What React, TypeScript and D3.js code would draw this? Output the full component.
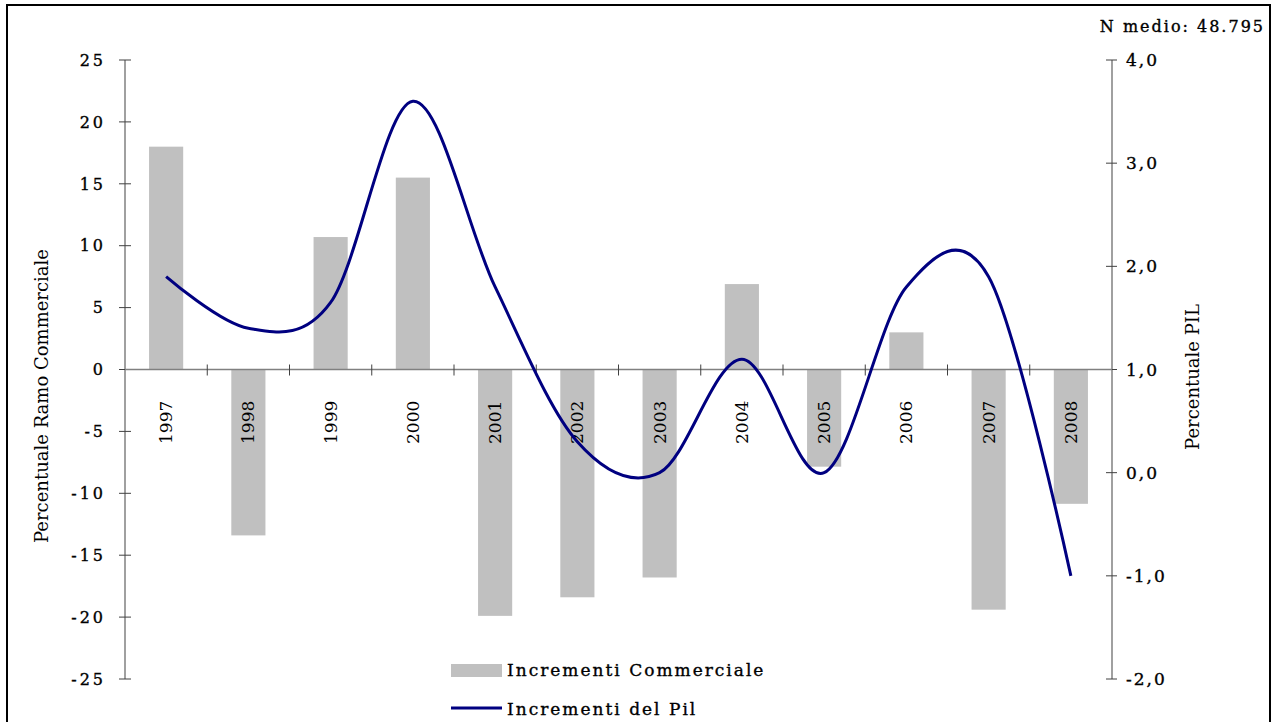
import React from "react";
import * as d3 from "d3";

const years = ["1997","1998","1999","2000","2001","2002","2003","2004","2005","2006","2007","2008"];
const commerciale = [18.0, -13.4, 10.7, 15.5, -19.9, -18.4, -16.8, 6.9, -7.85, 3.0, -19.4, -10.85];
const pil = [1.9, 1.4, 1.65, 3.6, 1.8, 0.3, 0.0, 1.1, 0.0, 1.8, 1.9, -1.0];
const leftTicks = [25, 20, 15, 10, 5, 0, -5, -10, -15, -20, -25];
const rightTicks = [4, 3, 2, 1, 0, -1, -2];

const W = 1273, H = 722;
const L = 125, R = 1112, T = 60, B = 679;
const FONT = "'DejaVu Serif', serif";
const thick = { stroke: "#000", strokeWidth: 0.35 };

export default function App() {
  const x = d3.scaleBand<string>().domain(years).range([L, R]).padding(0);
  const yL = d3.scaleLinear().domain([-25, 25]).range([B, T]);
  const yR = d3.scaleLinear().domain([-2, 4]).range([B, T]);
  const bw = x.bandwidth() * 0.415;
  const cx = (y: string) => (x(y) as number) + x.bandwidth() / 2;
  const line = d3.line<number>()
    .x((_, i) => cx(years[i]))
    .y((d) => yR(d))
    .curve(d3.curveCatmullRom.alpha(0));
  const y0 = yL(0);
  return (
    <svg width={W} height={H} style={{ position: "absolute", left: 0, top: 0, background: "#fff" }}>
      <rect x={7} y={5} width={1263} height={730} fill="#fff" stroke="#000" strokeWidth={2} />
      {commerciale.map((v, i) => (
        <rect key={years[i]} x={cx(years[i]) - bw / 2} width={bw}
          y={Math.min(yL(v), y0)} height={Math.abs(yL(v) - y0)} fill="#c0c0c0" />
      ))}
      <line x1={L} x2={L} y1={T} y2={B} stroke="#808080" strokeWidth={1.5} />
      {leftTicks.map((t) => (
        <g key={t}>
          <line x1={L - 6} x2={L + 6} y1={yL(t)} y2={yL(t)} stroke="#404040" strokeWidth={1} />
          <text x={106} y={yL(t)} dy="0.36em" textAnchor="end" fontFamily={FONT} fontSize={16}
            letterSpacing={3} {...thick}>{t}</text>
        </g>
      ))}
      <line x1={R} x2={R} y1={T} y2={B} stroke="#808080" strokeWidth={1.5} />
      {rightTicks.map((t) => (
        <g key={t}>
          <line x1={R - 6} x2={R + 5} y1={yR(t)} y2={yR(t)} stroke="#404040" strokeWidth={1} />
          <text x={1126} y={yR(t)} dy="0.36em" textAnchor="start" fontFamily={FONT} fontSize={17}
            letterSpacing={2} {...thick}>{d3.format(".1f")(t).replace(".", ",").replace("\u2212", "-")}</text>
        </g>
      ))}
      <line x1={L} x2={R} y1={y0} y2={y0} stroke="#808080" strokeWidth={1.5} />
      {years.slice(1).map((yr) => (
        <line key={yr} x1={x(yr)} x2={x(yr)} y1={y0 - 5} y2={y0 + 6} stroke="#404040" strokeWidth={1} />
      ))}
      {years.map((yr) => (
        <text key={yr} transform={`translate(${cx(yr) + 6},444) rotate(-90)`} textAnchor="start"
          fontFamily={FONT} fontSize={17}>{yr}</text>
      ))}
      <path d={line(pil) as string} fill="none" stroke="#000080" strokeWidth={3} strokeLinejoin="round" />
      <text transform={`translate(48,396) rotate(-90)`} textAnchor="middle" fontFamily={FONT} fontSize={18}>
        Percentuale Ramo Commerciale
      </text>
      <text transform={`translate(1199,377) rotate(-90)`} textAnchor="middle" fontFamily={FONT} fontSize={18}>
        Percentuale PIL
      </text>
      <text x={1265} y={32} textAnchor="end" fontFamily={FONT} fontSize={16} letterSpacing={2} {...thick}>
        N medio: 48.795
      </text>
      <rect x={451} y={664} width={51} height={13} fill="#c0c0c0" />
      <text x={507} y={676} fontFamily={FONT} fontSize={17} letterSpacing={2} {...thick}>Incrementi Commerciale</text>
      <line x1={451} x2={502} y1={708} y2={708} stroke="#000080" strokeWidth={3} />
      <text x={507} y={715} fontFamily={FONT} fontSize={17} letterSpacing={2} {...thick}>Incrementi del Pil</text>
    </svg>
  );
}
